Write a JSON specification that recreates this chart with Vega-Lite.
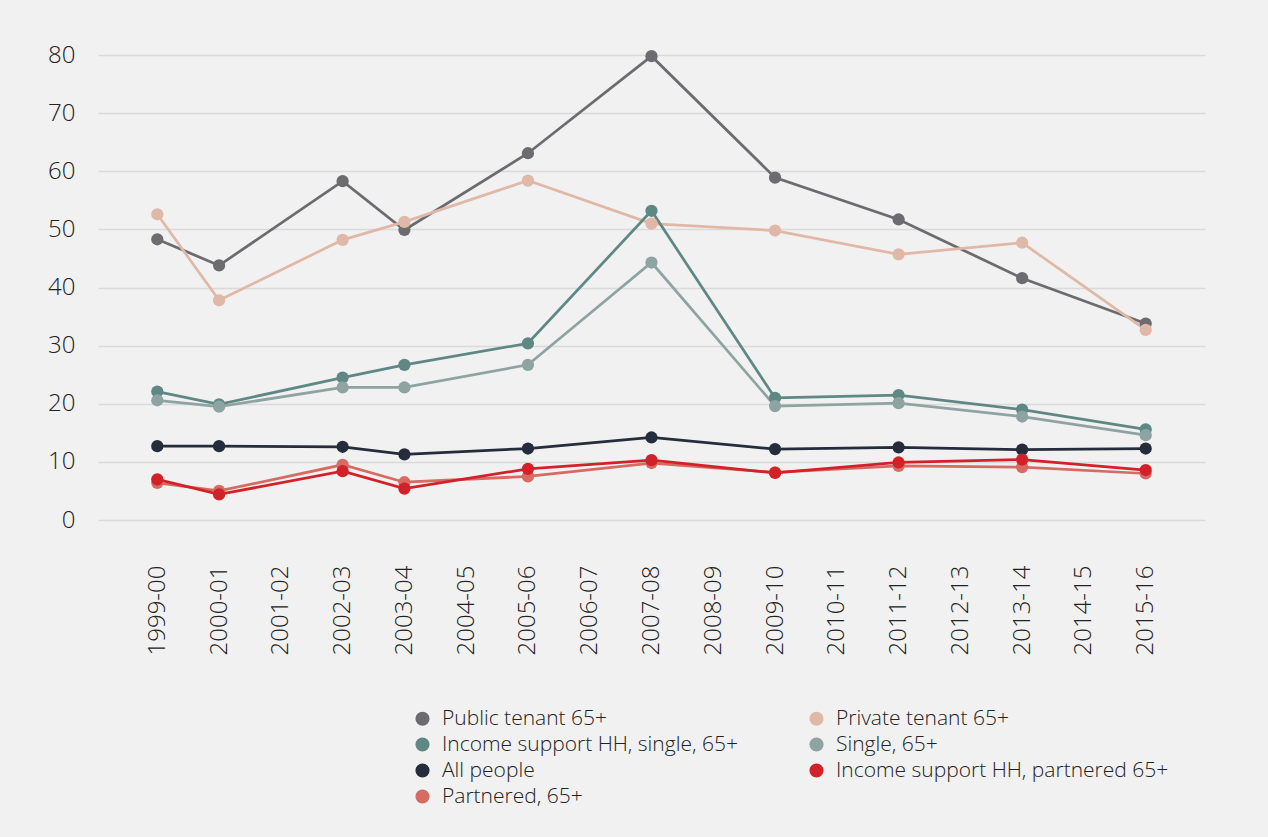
{
  "$schema": "https://vega.github.io/schema/vega-lite/v6.json",
  "width": 1107,
  "height": 465,
  "autosize": {"type": "none"},
  "padding": {"left": 98, "top": 55, "right": 63, "bottom": 317},
  "background": "#f1f1f1",
  "config": {
    "font": "Open Sans",
    "view": {"stroke": null},
    "axis": {"labelFont": "Open Sans", "labelFontWeight": 300, "labelColor": "#222222", "labelFontSize": 24, "ticks": false, "domain": false, "title": null},
    "legend": {"labelFont": "Open Sans", "labelFontWeight": 300, "labelColor": "#222222", "labelFontSize": 21, "labelLimit": 500}
  },
  "data": {"values": [
    {"year": "1999-00", "series": "Public tenant 65+", "value": 48.3},
    {"year": "2000-01", "series": "Public tenant 65+", "value": 43.8},
    {"year": "2002-03", "series": "Public tenant 65+", "value": 58.3},
    {"year": "2003-04", "series": "Public tenant 65+", "value": 49.9},
    {"year": "2005-06", "series": "Public tenant 65+", "value": 63.1},
    {"year": "2007-08", "series": "Public tenant 65+", "value": 79.8},
    {"year": "2009-10", "series": "Public tenant 65+", "value": 58.9},
    {"year": "2011-12", "series": "Public tenant 65+", "value": 51.7},
    {"year": "2013-14", "series": "Public tenant 65+", "value": 41.6},
    {"year": "2015-16", "series": "Public tenant 65+", "value": 33.8},
    {"year": "1999-00", "series": "Private tenant 65+", "value": 52.6},
    {"year": "2000-01", "series": "Private tenant 65+", "value": 37.8},
    {"year": "2002-03", "series": "Private tenant 65+", "value": 48.2},
    {"year": "2003-04", "series": "Private tenant 65+", "value": 51.3},
    {"year": "2005-06", "series": "Private tenant 65+", "value": 58.4},
    {"year": "2007-08", "series": "Private tenant 65+", "value": 51.0},
    {"year": "2009-10", "series": "Private tenant 65+", "value": 49.8},
    {"year": "2011-12", "series": "Private tenant 65+", "value": 45.7},
    {"year": "2013-14", "series": "Private tenant 65+", "value": 47.7},
    {"year": "2015-16", "series": "Private tenant 65+", "value": 32.7},
    {"year": "1999-00", "series": "Income support HH, single, 65+", "value": 22.1},
    {"year": "2000-01", "series": "Income support HH, single, 65+", "value": 19.9},
    {"year": "2002-03", "series": "Income support HH, single, 65+", "value": 24.5},
    {"year": "2003-04", "series": "Income support HH, single, 65+", "value": 26.7},
    {"year": "2005-06", "series": "Income support HH, single, 65+", "value": 30.4},
    {"year": "2007-08", "series": "Income support HH, single, 65+", "value": 53.2},
    {"year": "2009-10", "series": "Income support HH, single, 65+", "value": 21.0},
    {"year": "2011-12", "series": "Income support HH, single, 65+", "value": 21.5},
    {"year": "2013-14", "series": "Income support HH, single, 65+", "value": 19.0},
    {"year": "2015-16", "series": "Income support HH, single, 65+", "value": 15.6},
    {"year": "1999-00", "series": "Single, 65+", "value": 20.6},
    {"year": "2000-01", "series": "Single, 65+", "value": 19.5},
    {"year": "2002-03", "series": "Single, 65+", "value": 22.8},
    {"year": "2003-04", "series": "Single, 65+", "value": 22.8},
    {"year": "2005-06", "series": "Single, 65+", "value": 26.7},
    {"year": "2007-08", "series": "Single, 65+", "value": 44.3},
    {"year": "2009-10", "series": "Single, 65+", "value": 19.6},
    {"year": "2011-12", "series": "Single, 65+", "value": 20.1},
    {"year": "2013-14", "series": "Single, 65+", "value": 17.8},
    {"year": "2015-16", "series": "Single, 65+", "value": 14.6},
    {"year": "1999-00", "series": "All people", "value": 12.7},
    {"year": "2000-01", "series": "All people", "value": 12.7},
    {"year": "2002-03", "series": "All people", "value": 12.6},
    {"year": "2003-04", "series": "All people", "value": 11.3},
    {"year": "2005-06", "series": "All people", "value": 12.3},
    {"year": "2007-08", "series": "All people", "value": 14.2},
    {"year": "2009-10", "series": "All people", "value": 12.2},
    {"year": "2011-12", "series": "All people", "value": 12.5},
    {"year": "2013-14", "series": "All people", "value": 12.1},
    {"year": "2015-16", "series": "All people", "value": 12.3},
    {"year": "1999-00", "series": "Partnered, 65+", "value": 6.4},
    {"year": "2000-01", "series": "Partnered, 65+", "value": 5.0},
    {"year": "2002-03", "series": "Partnered, 65+", "value": 9.5},
    {"year": "2003-04", "series": "Partnered, 65+", "value": 6.5},
    {"year": "2005-06", "series": "Partnered, 65+", "value": 7.5},
    {"year": "2007-08", "series": "Partnered, 65+", "value": 9.8},
    {"year": "2009-10", "series": "Partnered, 65+", "value": 8.2},
    {"year": "2011-12", "series": "Partnered, 65+", "value": 9.3},
    {"year": "2013-14", "series": "Partnered, 65+", "value": 9.1},
    {"year": "2015-16", "series": "Partnered, 65+", "value": 8.0},
    {"year": "1999-00", "series": "Income support HH, partnered 65+", "value": 7.0},
    {"year": "2000-01", "series": "Income support HH, partnered 65+", "value": 4.4},
    {"year": "2002-03", "series": "Income support HH, partnered 65+", "value": 8.4},
    {"year": "2003-04", "series": "Income support HH, partnered 65+", "value": 5.4},
    {"year": "2005-06", "series": "Income support HH, partnered 65+", "value": 8.8},
    {"year": "2007-08", "series": "Income support HH, partnered 65+", "value": 10.3},
    {"year": "2009-10", "series": "Income support HH, partnered 65+", "value": 8.1},
    {"year": "2011-12", "series": "Income support HH, partnered 65+", "value": 9.9},
    {"year": "2013-14", "series": "Income support HH, partnered 65+", "value": 10.4},
    {"year": "2015-16", "series": "Income support HH, partnered 65+", "value": 8.6}
  ]},
  "encoding": {
    "x": {
      "field": "year", "type": "ordinal",
      "scale": {"type": "point", "padding": 0.96, "domain": ["1999-00","2000-01","2001-02","2002-03","2003-04","2004-05","2005-06","2006-07","2007-08","2008-09","2009-10","2010-11","2011-12","2012-13","2013-14","2014-15","2015-16"]},
      "axis": {"labelAngle": -90, "labelPadding": 45, "grid": false}
    },
    "y": {
      "field": "value", "type": "quantitative",
      "scale": {"domain": [0, 80], "nice": false, "zero": true},
      "axis": {"values": [0,10,20,30,40,50,60,70,80], "labelPadding": 23, "grid": true, "gridColor": "#dadada", "gridWidth": 1.5}
    },
    "color": {
      "field": "series", "type": "nominal",
      "scale": {
        "domain": ["Public tenant 65+", "Income support HH, single, 65+", "All people", "Partnered, 65+", "Private tenant 65+", "Single, 65+", "Income support HH, partnered 65+"],
        "range": ["#6c6b70", "#5f8885", "#252c3b", "#d56b62", "#e0b8a8", "#8ea4a2", "#d3212a"]
      },
      "legend": {
        "title": null, "orient": "none", "legendX": 314, "legendY": 653, "columns": 2,
        "symbolType": "circle", "symbolSize": 200, "symbolStrokeWidth": 0, "labelOffset": 9,
        "rowPadding": 4, "columnPadding": 68, "padding": 0
      }
    }
  },
  "layer": [
    {"mark": {"type": "line", "strokeWidth": 2.75}},
    {"mark": {"type": "circle", "size": 150, "opacity": 1}}
  ]
}
